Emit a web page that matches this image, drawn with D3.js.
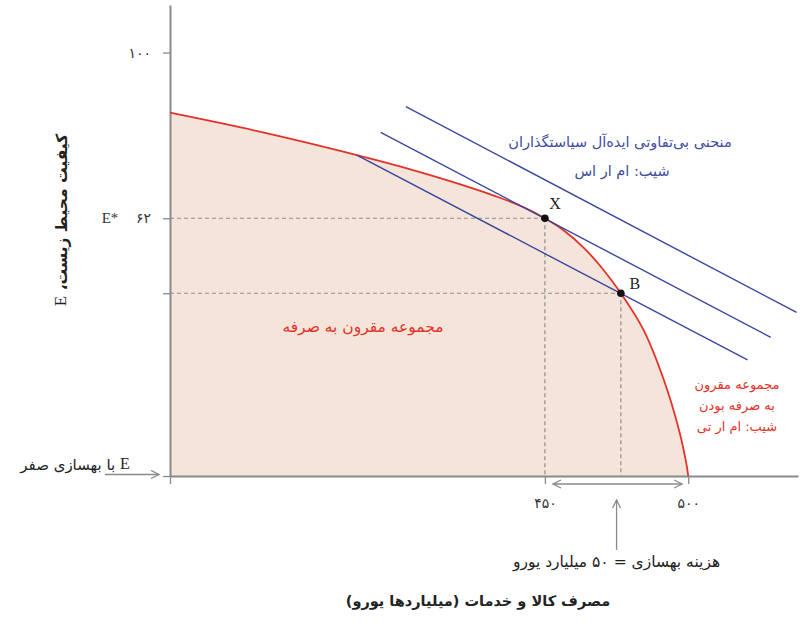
<!DOCTYPE html>
<html>
<head>
<meta charset="utf-8">
<script src="https://cdn.jsdelivr.net/npm/d3@7"></script>
<style>
  body { margin: 0; background: #fff; }
  svg { display: block; }
  .fa { font-family: "DejaVu Sans", "Noto Sans", sans-serif; }
  .lat { font-family: "Liberation Serif", "DejaVu Serif", serif; }
</style>
</head>
<body>
<svg id="chart" width="809" height="632"></svg>
<script>
// axis extents (data units)
var xDomain = [319.2, 538.3];
var yDomain = [2.9, 110.9];

// feasible frontier
var frontierX = [319.2, 351.6, 384.4, 399.4, 416.9, 434.3, 443.0, 450, 456.6, 463.3, 469.9, 476.5, 484.4, 491.5, 496.8, 499.3, 500];
var frontierY = [86.2, 81.7, 76.5, 73.9, 70.5, 66.7, 64.4, 62, 59.2, 55.4, 50.6, 44.8, 36.4, 24.9, 13.4, 5.9, 2.9];

// indifference curves (straight lines), start and end points
var lineX1 = [401.5, 392.7, 384.4];
var lineY1 = [87.6, 81.7, 76.5];
var lineX2 = [537.8, 528.8, 520.7];
var lineY2 = [40.4, 34.7, 29.5];

// marked points
var pointNames = ["X", "B"];
var pointX = [450, 476.5];
var pointY = [62, 44.8];

// ticks
var xTickValues = [319.2, 450, 500];
var xTickLabels = ["", "۴۵۰", "۵۰۰"];
var yTickValues = [2.9, 44.8, 62, 100];
var yTickLabels = ["", "", "۶۲", "۱۰۰"];

var svg = d3.select("#chart");

var x = d3.scaleLinear().domain(xDomain).range([170, 798]);
var y = d3.scaleLinear().domain(yDomain).range([476, 5]);

var frontier = frontierX.map(function(d, i) { return {x: d, y: frontierY[i]}; });

var smooth = d3.curveCatmullRom.alpha(0.5);

// shaded feasible set
var area = d3.area()
    .x(function(d) { return x(d.x); })
    .y0(y(yDomain[0]))
    .y1(function(d) { return y(d.y); })
    .curve(smooth);

svg.append("path")
    .datum(frontier)
    .attr("d", area)
    .attr("fill", "#f4e4da");

// dashed guides
var guides = svg.append("g")
    .attr("stroke", "#8f8f8f")
    .attr("stroke-width", 1.2)
    .attr("stroke-dasharray", "4,3");

pointX.forEach(function(px, i) {
    guides.append("line")
        .attr("x1", x(xDomain[0])).attr("x2", x(px))
        .attr("y1", y(pointY[i])).attr("y2", y(pointY[i]));
    guides.append("line")
        .attr("x1", x(px)).attr("x2", x(px))
        .attr("y1", y(pointY[i])).attr("y2", y(yDomain[0]));
});

// axes
var xAxis = d3.axisBottom(x)
    .tickValues(xTickValues)
    .tickFormat(function(d, i) { return xTickLabels[i]; })
    .tickSize(8)
    .tickSizeOuter(0)
    .tickPadding(14);

var yAxis = d3.axisLeft(y)
    .tickValues(yTickValues)
    .tickFormat(function(d, i) { return yTickLabels[i]; })
    .tickSize(7)
    .tickSizeOuter(0)
    .tickPadding(12);

var gx = svg.append("g")
    .attr("transform", "translate(0," + y(yDomain[0]) + ")")
    .call(xAxis);

var gy = svg.append("g")
    .attr("transform", "translate(" + x(xDomain[0]) + ",0)")
    .call(yAxis);

[gx, gy].forEach(function(g) {
    g.select(".domain").attr("stroke", "#8a8a8a").attr("stroke-width", 2);
    g.selectAll(".tick line").attr("stroke", "#8a8a8a").attr("stroke-width", 1.3);
    g.selectAll(".tick text")
        .attr("class", "fa")
        .attr("fill", "#333")
        .style("font-size", "14px");
});

// frontier line
var line = d3.line()
    .x(function(d) { return x(d.x); })
    .y(function(d) { return y(d.y); })
    .curve(smooth);

svg.append("path")
    .datum(frontier)
    .attr("d", line)
    .attr("fill", "none")
    .attr("stroke", "#e2332b")
    .attr("stroke-width", 1.8);

// indifference lines
svg.append("g").selectAll("line")
    .data(lineX1)
    .enter()
    .append("line")
    .attr("x1", function(d) { return x(d); })
    .attr("y1", function(d, i) { return y(lineY1[i]); })
    .attr("x2", function(d, i) { return x(lineX2[i]); })
    .attr("y2", function(d, i) { return y(lineY2[i]); })
    .attr("stroke", "#3a479e")
    .attr("stroke-width", 1.4);

// points + labels
svg.append("g").selectAll("circle")
    .data(pointX)
    .enter()
    .append("circle")
    .attr("cx", function(d) { return x(d); })
    .attr("cy", function(d, i) { return y(pointY[i]); })
    .attr("r", 3.8)
    .attr("fill", "#111");

svg.append("text").attr("class", "lat")
    .attr("x", x(pointX[0]) + 10).attr("y", y(pointY[0]) - 9)
    .attr("text-anchor", "middle").style("font-size", "16px").attr("fill", "#222")
    .text(pointNames[0]);
svg.append("text").attr("class", "lat")
    .attr("x", x(pointX[1]) + 14).attr("y", y(pointY[1]) - 4)
    .attr("text-anchor", "middle").style("font-size", "16px").attr("fill", "#222")
    .text(pointNames[1]);

// E* next to 62
svg.append("text").attr("class", "lat")
    .attr("x", 110).attr("y", y(62) + 5)
    .attr("text-anchor", "middle").style("font-size", "15px").attr("fill", "#333")
    .text("E*");

// arrows
var defs = svg.append("defs");
defs.append("marker")
    .attr("id", "chev")
    .attr("viewBox", "0 0 10 10")
    .attr("refX", 9).attr("refY", 5)
    .attr("markerWidth", 10).attr("markerHeight", 10)
    .attr("markerUnits", "userSpaceOnUse")
    .attr("orient", "auto-start-reverse")
    .append("path")
    .attr("d", "M1,1 L9,5 L1,9")
    .attr("fill", "none")
    .attr("stroke", "#8a8a8a")
    .attr("stroke-width", 1.3);

var arrows = svg.append("g").attr("stroke", "#8a8a8a").attr("stroke-width", 1.3).attr("fill", "none");

arrows.append("line")
    .attr("x1", 105).attr("x2", x(xDomain[0]) - 11)
    .attr("y1", y(yDomain[0]) - 1.5).attr("y2", y(yDomain[0]) - 1.5)
    .attr("marker-end", "url(#chev)");

arrows.append("line")
    .attr("x1", x(450) + 8).attr("x2", x(500) - 6)
    .attr("y1", y(yDomain[0]) + 8).attr("y2", y(yDomain[0]) + 8)
    .attr("marker-start", "url(#chev)")
    .attr("marker-end", "url(#chev)");

arrows.append("line")
    .attr("x1", x(475)).attr("x2", x(475))
    .attr("y1", 550).attr("y2", 500)
    .attr("marker-end", "url(#chev)");

// texts
function faText(tx, ty, str, size, color, weight) {
    return svg.append("text")
        .attr("class", "fa")
        .attr("x", tx).attr("y", ty)
        .attr("direction", "rtl")
        .attr("text-anchor", "middle")
        .attr("dominant-baseline", "middle")
        .style("font-size", size + "px")
        .style("font-weight", weight || "normal")
        .attr("fill", color)
        .text(str);
}

var zeroLbl = faText(75, 465, "", 15, "#222");
zeroLbl.append("tspan").attr("class", "lat").style("font-size", "16px").text("E");
zeroLbl.append("tspan").text(" با بهسازی صفر");

faText(x(475), 562, "هزینه بهسازی = ۵۰ میلیارد یورو", 15.5, "#222");
faText(478, 602, "مصرف کالا و خدمات (میلیاردها یورو)", 14.5, "#222", "bold");

faText(620, 143, "منحنی بی\u200cتفاوتی ایده\u200cآل سیاستگذاران", 14.5, "#3f4c9e");
faText(622, 172, "شیب: ام ار اس", 14.5, "#3f4c9e");

faText(363, 327, "مجموعه مقرون به صرفه", 15.5, "#e2332b");
faText(737, 385, "مجموعه مقرون", 13, "#e2332b");
faText(737, 406, "به صرفه بودن", 13, "#e2332b");
faText(737, 427, "شیب: ام ار تی", 13, "#e2332b");

var yTitle = svg.append("text")
    .attr("class", "fa")
    .attr("transform", "translate(62,220) rotate(-90)")
    .attr("direction", "rtl")
    .attr("text-anchor", "middle")
    .attr("dominant-baseline", "middle")
    .style("font-size", "15.5px")
    .style("font-weight", "bold")
    .attr("fill", "#222");
yTitle.append("tspan").text("کیفیت محیط زیست، ");
yTitle.append("tspan").attr("class", "lat").style("font-size", "17px").style("font-weight", "normal").text("E");
</script>
</body>
</html>
